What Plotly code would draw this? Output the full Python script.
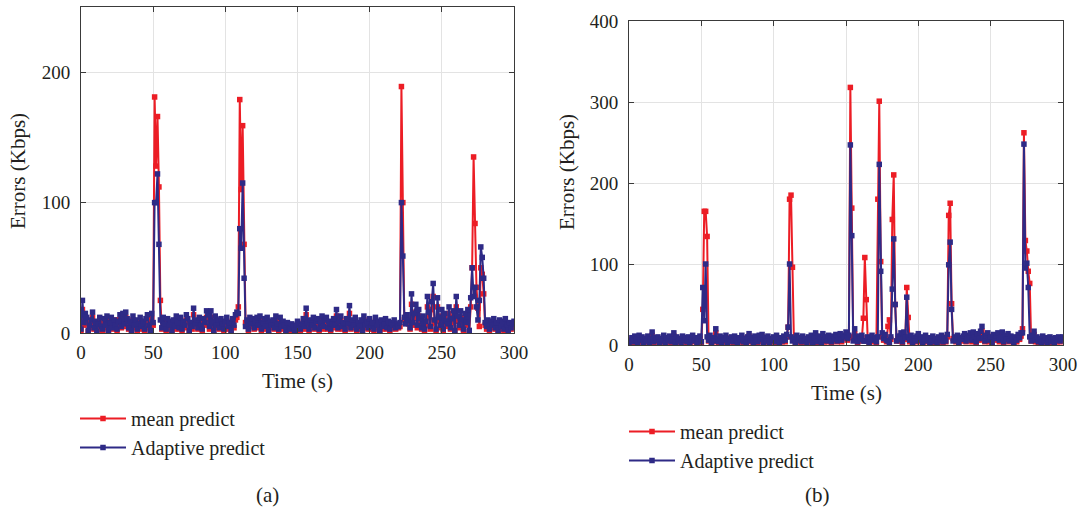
import plotly.graph_objects as go

time_s = list(range(0, 301))

a_adapt = [
    3, 25, 8, 15, 12, 2, 6, 10, 16, 4, 9, 1, 7, 12, 5, 3, 11, 6, 13, 2,
    8, 12, 4, 10, 6, 3, 9, 14, 5, 15, 7, 16, 11, 4, 9, 2, 13, 6, 10, 3,
    7, 12, 5, 9, 3, 11, 14, 6, 2, 15, 8, 100, 100, 122, 68, 10, 4, 12, 7, 3,
    11, 6, 9, 2, 10, 5, 13, 8, 4, 12, 3, 9, 6, 14, 11, 2, 8, 5, 19, 7,
    10, 4, 12, 6, 3, 11, 8, 17, 14, 5, 17, 9, 2, 13, 6, 10, 4, 11, 7, 3,
    9, 12, 5, 8, 2, 11, 6, 14, 16, 15, 80, 65, 115, 42, 5, 10, 3, 12, 7, 11,
    4, 9, 12, 6, 13, 3, 8, 11, 5, 12, 2, 9, 6, 10, 4, 13, 7, 3, 12, 5,
    9, 6, 2, 8, 4, 3, 7, 5, 2, 6, 9, 4, 3, 7, 11, 5, 19, 8, 3, 10,
    6, 12, 4, 9, 11, 3, 8, 13, 5, 10, 12, 4, 9, 3, 7, 11, 6, 18, 4, 9,
    13, 5, 8, 3, 11, 7, 21, 4, 10, 6, 12, 3, 8, 5, 10, 2, 13, 6, 9, 4,
    11, 5, 8, 3, 12, 6, 9, 2, 10, 5, 7, 11, 4, 9, 3, 8, 6, 10, 4, 7,
    5, 8, 100, 59, 12, 7, 14, 10, 4, 30, 8, 15, 22, 6, 18, 11, 4, 13, 3, 9,
    28, 16, 5, 24, 38, 10, 3, 27, 12, 6, 18, 3, 15, 9, 7, 20, 4, 11, 17, 2,
    28, 13, 6, 17, 10, 3, 15, 8, 18, 2, 27, 50, 28, 35, 20, 10, 25, 66, 58, 42,
    8, 5, 10, 3, 9, 6, 11, 4, 8, 2, 10, 5, 9, 3, 11, 6, 2, 8, 4, 7,
    9,
]

a_mean = [
    2, 18, 6, 10, 8, 1, 4, 7, 12, 3, 6, 1, 5, 9, 3, 2, 8, 4, 10, 1,
    6, 9, 3, 7, 10, 2, 6, 10, 4, 11, 5, 12, 8, 3, 6, 1, 10, 4, 7, 2,
    5, 9, 3, 6, 2, 8, 10, 4, 1, 11, 6, 181, 128, 166, 112, 25, 3, 11, 5, 2,
    8, 4, 6, 1, 7, 3, 10, 6, 3, 9, 2, 6, 4, 10, 8, 1, 6, 3, 14, 5,
    7, 3, 9, 4, 2, 8, 6, 12, 10, 3, 12, 6, 1, 9, 4, 7, 3, 8, 5, 2,
    6, 9, 3, 6, 1, 8, 4, 10, 12, 20, 179, 110, 159, 68, 8, 7, 2, 9, 5, 8,
    3, 6, 9, 4, 10, 2, 6, 8, 3, 9, 1, 6, 4, 7, 3, 10, 5, 2, 9, 3,
    6, 4, 1, 6, 3, 2, 5, 3, 1, 4, 6, 3, 2, 5, 8, 3, 14, 6, 2, 7,
    4, 9, 3, 6, 8, 2, 6, 10, 3, 7, 9, 3, 6, 2, 5, 8, 4, 13, 3, 6,
    10, 3, 6, 2, 8, 5, 15, 3, 7, 4, 9, 2, 6, 3, 7, 1, 10, 4, 6, 3,
    8, 3, 6, 2, 9, 4, 6, 1, 7, 3, 5, 8, 3, 6, 2, 6, 4, 7, 3, 5,
    4, 5, 189, 100, 10, 12, 10, 7, 3, 22, 6, 11, 16, 4, 13, 8, 3, 9, 2, 6,
    20, 12, 3, 18, 28, 7, 2, 20, 9, 4, 13, 2, 11, 6, 5, 15, 3, 8, 12, 1,
    20, 9, 4, 12, 7, 2, 11, 6, 13, 1, 20, 50, 135, 84, 35, 19, 5, 50, 45, 30,
    6, 3, 7, 2, 6, 4, 8, 3, 6, 1, 7, 3, 6, 2, 8, 4, 1, 6, 3, 5,
    7,
]

b_adapt = [
    2, 5, 9, 4, 11, 7, 3, 12, 6, 10, 2, 8, 5, 11, 3, 7, 16, 4, 9, 6,
    10, 3, 8, 5, 12, 2, 9, 6, 11, 4, 7, 15, 3, 10, 5, 8, 2, 11, 6, 9,
    4, 10, 3, 7, 12, 5, 9, 2, 8, 11, 4, 71, 30, 100, 10, 6, 12, 3, 9, 5,
    20, 7, 4, 11, 3, 9, 6, 12, 2, 8, 5, 10, 4, 11, 7, 3, 9, 6, 12, 4,
    8, 3, 10, 14, 5, 9, 2, 11, 6, 4, 12, 7, 13, 3, 9, 5, 11, 2, 8, 6,
    10, 4, 12, 7, 3, 9, 5, 11, 6, 13, 22, 100, 10, 5, 8, 3, 12, 6, 9, 4,
    11, 5, 8, 3, 10, 6, 12, 2, 9, 15, 4, 11, 7, 3, 14, 6, 10, 5, 12, 8,
    4, 11, 7, 13, 5, 9, 14, 6, 12, 10, 16, 8, 12, 247, 135, 5, 20, 9, 4, 11,
    7, 12, 5, 5, 5, 10, 3, 8, 12, 6, 9, 4, 10, 223, 91, 15, 8, 13, 6, 5,
    3, 10, 69, 131, 50, 5, 11, 7, 15, 4, 16, 9, 59, 10, 6, 12, 3, 9, 5, 11,
    14, 6, 10, 3, 8, 12, 5, 9, 2, 7, 11, 4, 8, 3, 10, 6, 12, 4, 9, 5,
    13, 99, 127, 44, 5, 10, 6, 12, 3, 9, 7, 11, 14, 5, 8, 12, 15, 6, 16, 10,
    4, 14, 8, 17, 23, 9, 5, 12, 15, 6, 10, 3, 13, 8, 11, 15, 6, 9, 16, 4,
    12, 7, 14, 5, 11, 8, 3, 10, 6, 13, 9, 15, 15, 248, 95, 101, 71, 10, 5, 12,
    17, 6, 10, 4, 8, 3, 11, 5, 9, 2, 7, 10, 4, 8, 3, 9, 6, 10, 5, 8,
    10,
]

b_mean = [
    1, 4, 7, 3, 8, 5, 2, 9, 4, 8, 1, 6, 4, 8, 2, 5, 12, 3, 7, 4,
    8, 2, 6, 4, 9, 1, 7, 4, 8, 3, 5, 11, 2, 8, 4, 6, 1, 8, 4, 7,
    3, 8, 2, 5, 9, 4, 7, 1, 6, 8, 3, 44, 165, 165, 134, 5, 9, 2, 7, 4,
    15, 5, 3, 8, 2, 7, 4, 9, 1, 6, 4, 8, 3, 8, 5, 2, 7, 4, 9, 3,
    6, 2, 8, 11, 4, 7, 1, 8, 4, 3, 9, 5, 10, 2, 7, 4, 8, 1, 6, 4,
    8, 3, 9, 5, 2, 7, 4, 8, 4, 10, 22, 180, 185, 96, 6, 2, 9, 4, 7, 3,
    8, 4, 6, 2, 8, 4, 9, 1, 7, 11, 3, 8, 5, 2, 10, 4, 8, 4, 9, 6,
    3, 8, 5, 10, 4, 7, 10, 4, 9, 8, 12, 6, 9, 318, 169, 10, 14, 7, 3, 8,
    5, 9, 33, 108, 56, 7, 2, 6, 9, 4, 7, 3, 180, 301, 103, 10, 6, 10, 4, 23,
    31, 7, 155, 210, 50, 5, 8, 5, 11, 3, 12, 7, 71, 34, 4, 9, 2, 7, 4, 8,
    10, 4, 8, 2, 6, 9, 4, 7, 1, 5, 8, 3, 6, 2, 8, 4, 9, 3, 7, 4,
    10, 160, 175, 51, 8, 7, 4, 9, 2, 7, 5, 8, 10, 4, 6, 9, 11, 4, 12, 8,
    3, 10, 6, 13, 17, 7, 4, 9, 11, 4, 8, 2, 10, 6, 8, 11, 4, 7, 12, 3,
    9, 5, 10, 4, 8, 6, 2, 8, 4, 10, 7, 11, 20, 262, 129, 116, 91, 76, 5, 9,
    13, 4, 8, 3, 6, 2, 8, 4, 7, 1, 5, 8, 3, 6, 2, 7, 4, 8, 4, 6,
    8,
]

x_ticks = [0, 50, 100, 150, 200, 250, 300]
a_y_ticks = [0, 100, 200]
b_y_ticks = [0, 100, 200, 300, 400]
series_names = ["mean predict", "Adaptive predict"]
panel_labels = ["(a)", "(b)"]

RED = "#EC1D25"
BLUE = "#2E2A86"
FONT = "Liberation Serif"
TXT = "#231F20"

W, H = 1082, 515
def px(x):
    return x / W
def py(y):
    return 1 - y / H

fig = go.Figure()

def add_pair(mean_vals, adapt_vals, xa, ya, legend):
    fig.add_trace(go.Scatter(
        x=time_s, y=mean_vals, mode="lines+markers", name=series_names[0],
        line=dict(color=RED, width=2), marker=dict(symbol="square", size=5.5, color=RED),
        xaxis=xa, yaxis=ya, legend=legend))
    fig.add_trace(go.Scatter(
        x=time_s, y=adapt_vals, mode="lines+markers", name=series_names[1],
        line=dict(color=BLUE, width=2), marker=dict(symbol="square", size=5.5, color=BLUE),
        xaxis=xa, yaxis=ya, legend=legend))

add_pair(a_mean, a_adapt, "x", "y", "legend")
add_pair(b_mean, b_adapt, "x2", "y2", "legend2")

axis_common = dict(
    showline=True, linecolor="#3A3A3A", linewidth=1, mirror="allticks",
    ticks="inside", ticklen=5, tickcolor="#3A3A3A",
    showgrid=True, gridcolor="#E3E3E3", gridwidth=1, zeroline=False,
    automargin=False,
    tickfont=dict(family=FONT, size=19, color=TXT),
)

fig.update_layout(
    width=W, height=H, margin=dict(l=0, r=0, t=0, b=0, pad=0, autoexpand=False),
    paper_bgcolor="white", plot_bgcolor="white",
    showlegend=True,
    xaxis=dict(domain=[px(81), px(514)], range=[0, 300], tickvals=x_ticks,
               anchor="y", ticklabelstandoff=2, **axis_common),
    yaxis=dict(domain=[py(333), py(7)], range=[0, 250], tickvals=a_y_ticks,
               anchor="x", ticklabelstandoff=6, **axis_common),
    xaxis2=dict(domain=[px(629), px(1063)], range=[0, 300], tickvals=x_ticks,
                anchor="y2", ticklabelstandoff=2, **axis_common),
    yaxis2=dict(domain=[py(345), py(21)], range=[0, 400], tickvals=b_y_ticks,
                anchor="x2", ticklabelstandoff=6, **axis_common),
    legend=dict(x=px(75), y=py(399), xanchor="left", yanchor="top",
                font=dict(family=FONT, size=20, color=TXT), bgcolor="rgba(0,0,0,0)",
                itemwidth=46, tracegroupgap=0),
    legend2=dict(x=px(624), y=py(412), xanchor="left", yanchor="top",
                 font=dict(family=FONT, size=20, color=TXT), bgcolor="rgba(0,0,0,0)",
                 itemwidth=46, tracegroupgap=0),
)

annots = [
    dict(text="Errors (Kbps)", x=px(18), y=py(171), textangle=-90),
    dict(text="Errors (Kbps)", x=px(567), y=py(172), textangle=-90),
    dict(text="Time (s)", x=px(297), y=py(381)),
    dict(text="Time (s)", x=px(846), y=py(393)),
    dict(text=panel_labels[0], x=px(267), y=py(495)),
    dict(text=panel_labels[1], x=px(817), y=py(495)),
]
for a in annots:
    fig.add_annotation(xref="paper", yref="paper", showarrow=False,
                       xanchor="center", yanchor="middle",
                       font=dict(family=FONT, size=21, color=TXT), **a)

fig.write_html("out.html", post_script="document.body.style.margin='0';document.body.style.padding='0';")
